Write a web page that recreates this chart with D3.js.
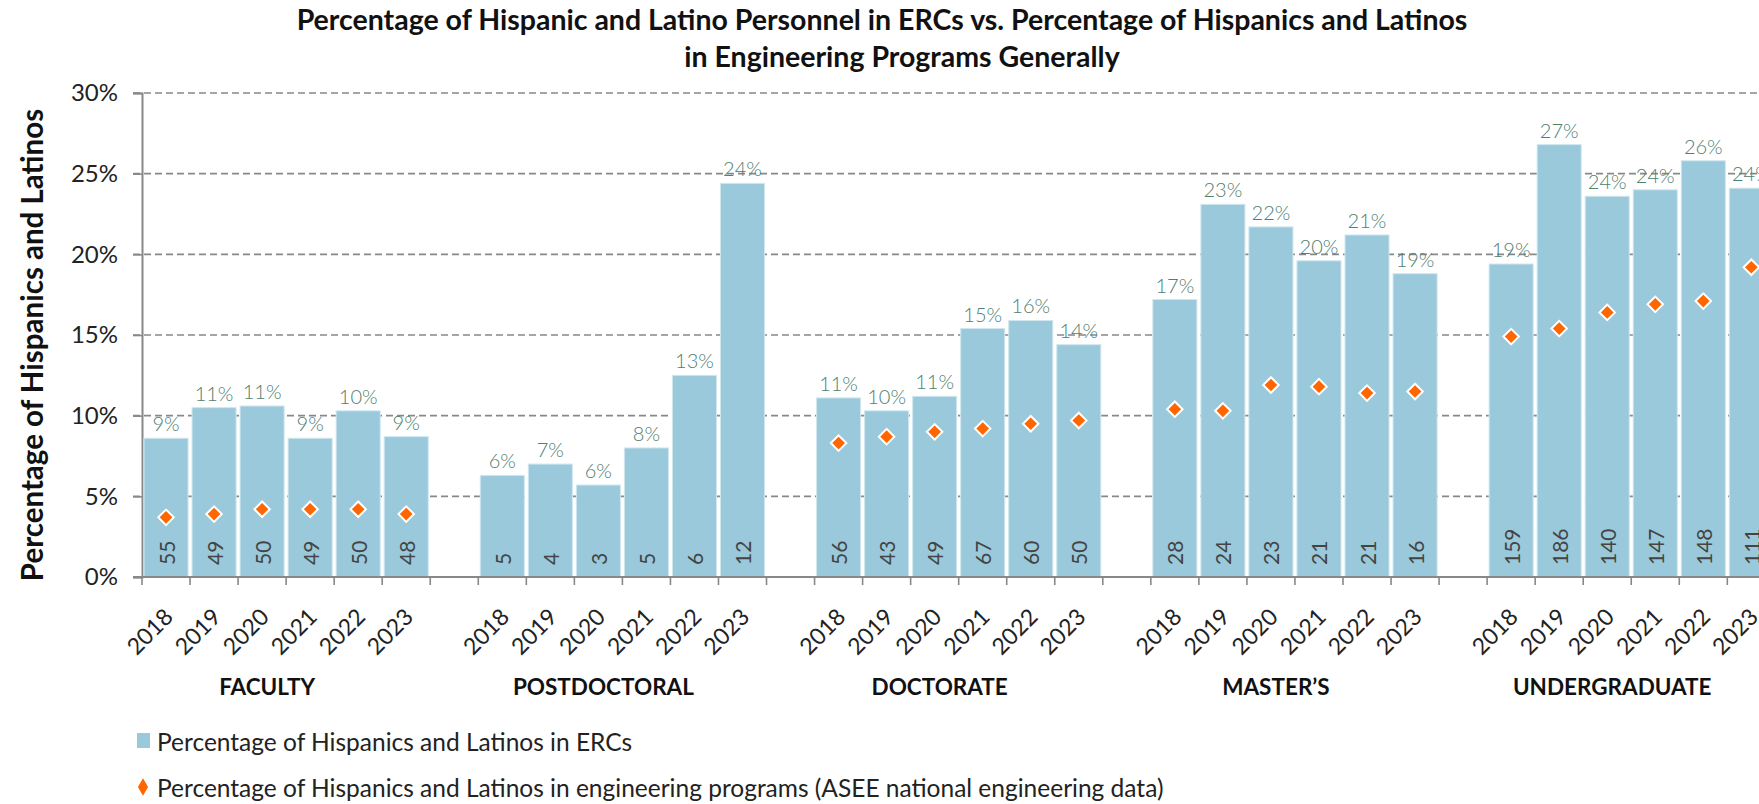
<!DOCTYPE html>
<html>
<head>
<meta charset="utf-8">
<script src="https://cdn.jsdelivr.net/npm/d3@7"></script>
<style>
  body { margin: 0; background: #fff; }
  svg { display: block; overflow: hidden; font-family: Lato, "Open Sans", sans-serif; }
</style>
</head>
<body>
<div id="chart"></div>
<script>
const groups = ["FACULTY", "POSTDOCTORAL", "DOCTORATE", "MASTER\u2019S", "UNDERGRADUATE"];
const years = ["2018", "2019", "2020", "2021", "2022", "2023"];

// percentage in ERCs, one row of 6 years per group
const ercPct = [
  8.6, 10.5, 10.6, 8.6, 10.3, 8.7,      // faculty
  6.3, 7.0, 5.7, 8.0, 12.5, 24.4,       // postdoctoral
  11.1, 10.3, 11.2, 15.4, 15.9, 14.4,   // doctorate
  17.2, 23.1, 21.7, 19.6, 21.2, 18.8,   // master's
  19.4, 26.8, 23.6, 24.0, 25.8, 24.1    // undergraduate
];

// ASEE national engineering data (no postdoc figures)
const aseePct = [
  3.7, 3.9, 4.2, 4.2, 4.2, 3.9,
  null, null, null, null, null, null,
  8.3, 8.7, 9.0, 9.2, 9.5, 9.7,
  10.4, 10.3, 11.9, 11.8, 11.4, 11.5,
  14.9, 15.4, 16.4, 16.9, 17.1, 19.2
];

// headcounts printed inside the bars
const headcount = [
  55, 49, 50, 49, 50, 48,
  5, 4, 3, 5, 6, 12,
  56, 43, 49, 67, 60, 50,
  28, 24, 23, 21, 21, 16,
  159, 186, 140, 147, 148, 111
];

const yTicks = [0, 5, 10, 15, 20, 25, 30];

const W = 1759, H = 804;
const plotLeft = 142, plotTop = 93, plotBottom = 577;
const slotW = 48.04;

// every group is 6 slots, with one empty slot between groups
const slots = [];
groups.forEach((g, gi) => {
  years.forEach(y => slots.push(g + "|" + y));
  if (gi < groups.length - 1) slots.push("gap" + gi);
});

const data = [];
groups.forEach((g, gi) => {
  years.forEach((y, yi) => {
    const k = gi * 6 + yi;
    data.push({ key: g + "|" + y, group: g, year: y, erc: ercPct[k], asee: aseePct[k], n: headcount[k] });
  });
});

const svg = d3.select("#chart").append("svg")
  .attr("width", W)
  .attr("height", H);

const x = d3.scaleBand()
  .domain(slots)
  .range([plotLeft, plotLeft + slots.length * slotW])
  .padding(0);

const y = d3.scaleLinear()
  .domain([0, 30])
  .range([plotBottom, plotTop]);

// title
svg.append("text")
  .attr("x", 882).attr("y", 30)
  .attr("text-anchor", "middle")
  .style("font-weight", "bold").style("font-size", "28.5px").style("fill", "#111")
  .text("Percentage of Hispanic and Latino Personnel in ERCs vs. Percentage of Hispanics and Latinos");
svg.append("text")
  .attr("x", 902).attr("y", 67)
  .attr("text-anchor", "middle")
  .style("font-weight", "bold").style("font-size", "28.5px").style("fill", "#111")
  .text("in Engineering Programs Generally");

// gridlines
svg.append("g")
  .selectAll("line")
  .data(yTicks.filter(t => t > 0))
  .enter().append("line")
  .attr("x1", plotLeft - 9).attr("x2", W)
  .attr("y1", d => y(d)).attr("y2", d => y(d))
  .attr("stroke", "#888").attr("stroke-width", 1.6)
  .attr("stroke-dasharray", "7,4");

// y axis
const yAxis = svg.append("g")
  .attr("transform", `translate(${plotLeft},0)`)
  .call(d3.axisLeft(y).tickValues(yTicks).tickFormat(d => d + "%").tickSize(9).tickPadding(15));
yAxis.select(".domain").attr("stroke", "#888").attr("stroke-width", 2);
yAxis.selectAll(".tick line").attr("stroke", "#888").attr("stroke-width", 1.6);
yAxis.selectAll("text").style("font-size", "24px").style("fill", "#222").style("font-family", "Lato, sans-serif");

svg.append("text")
  .attr("transform", `translate(43,${(plotTop + plotBottom) / 2 + 10}) rotate(-90)`)
  .attr("text-anchor", "middle")
  .style("font-weight", "bold").style("font-size", "29.5px").style("fill", "#111")
  .text("Percentage of Hispanics and Latinos");

// bars
svg.append("g")
  .selectAll("rect")
  .data(data)
  .enter().append("rect")
  .attr("x", d => x(d.key) + 2)
  .attr("y", d => y(d.erc))
  .attr("width", x.bandwidth() - 4)
  .attr("height", d => plotBottom - y(d.erc))
  .attr("fill", "#99c9da")
  .attr("stroke", "#cfe7ef")
  .attr("stroke-width", 1);

// value labels above bars
svg.append("g")
  .selectAll("text")
  .data(data)
  .enter().append("text")
  .attr("x", d => x(d.key) + x.bandwidth() / 2)
  .attr("y", d => y(d.erc) - 7)
  .attr("text-anchor", "middle")
  .style("font-size", "20px").style("font-weight", 300).style("fill", "#4f8070")
  .text(d => Math.round(d.erc) + "%");

// headcounts inside bars
svg.append("g")
  .selectAll("text")
  .data(data)
  .enter().append("text")
  .attr("transform", d => `translate(${x(d.key) + x.bandwidth() / 2},${plotBottom - 12}) rotate(-90)`)
  .attr("dominant-baseline", "central")
  .style("font-size", "21px").style("fill", "#444")
  .text(d => d.n);

// ASEE markers
const diamond = d3.symbol().type(d3.symbolSquare).size(120);
svg.append("g")
  .selectAll("path")
  .data(data.filter(d => d.asee != null))
  .enter().append("path")
  .attr("d", diamond)
  .attr("transform", d => `translate(${x(d.key) + x.bandwidth() / 2},${y(d.asee)}) rotate(45)`)
  .attr("fill", "#ff6600")
  .attr("stroke", "#fff")
  .attr("stroke-width", 2);

// x axis: line, slot boundary ticks, year labels
svg.append("line")
  .attr("x1", plotLeft - 9).attr("x2", W)
  .attr("y1", plotBottom).attr("y2", plotBottom)
  .attr("stroke", "#888").attr("stroke-width", 2);

svg.append("g")
  .selectAll("line")
  .data(d3.range(slots.length + 1))
  .enter().append("line")
  .attr("x1", i => plotLeft + i * slotW).attr("x2", i => plotLeft + i * slotW)
  .attr("y1", plotBottom).attr("y2", plotBottom + 8)
  .attr("stroke", "#888").attr("stroke-width", 1.6);

svg.append("g")
  .selectAll("text")
  .data(data)
  .enter().append("text")
  .attr("transform", d => `translate(${x(d.key) + x.bandwidth() / 2 - 3},${plotBottom + 30}) rotate(-45)`)
  .attr("text-anchor", "end")
  .attr("dy", "0.7em")
  .style("font-size", "23px").style("fill", "#222")
  .text(d => d.year);

// group labels
svg.append("g")
  .selectAll("text")
  .data(groups)
  .enter().append("text")
  .attr("x", g => (x(g + "|2018") + x(g + "|2023") + x.bandwidth()) / 2 - 19)
  .attr("y", 695)
  .attr("text-anchor", "middle")
  .style("font-weight", "bold").style("font-size", "22.5px").style("fill", "#111")
  .text(g => g);

// legend
const legend = svg.append("g");
legend.append("rect")
  .attr("x", 137).attr("y", 733).attr("width", 13).attr("height", 15)
  .attr("fill", "#99c9da");
legend.append("text")
  .attr("x", 157).attr("y", 741)
  .attr("dominant-baseline", "central")
  .style("font-size", "24.5px").style("fill", "#222")
  .text("Percentage of Hispanics and Latinos in ERCs");
legend.append("path")
  .attr("d", d3.symbol().type(d3.symbolDiamond).size(90))
  .attr("transform", "translate(143,787)")
  .attr("fill", "#ff6600");
legend.append("text")
  .attr("x", 157).attr("y", 787)
  .attr("dominant-baseline", "central")
  .style("font-size", "24.5px").style("fill", "#222")
  .text("Percentage of Hispanics and Latinos in engineering programs (ASEE national engineering data)");
</script>
</body>
</html>
